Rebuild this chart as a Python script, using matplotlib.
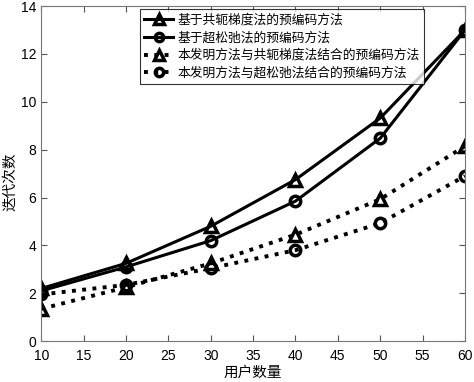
import matplotlib
matplotlib.use("Agg")
import matplotlib.pyplot as plt

plt.rcParams['font.family'] = ['Liberation Sans', 'Noto Sans CJK SC', 'DejaVu Sans']

users = [10, 20, 30, 40, 50, 60]
cg = [2.2, 3.25, 4.8, 6.75, 9.32, 13.0]
sor = [2.1, 3.1, 4.2, 5.85, 8.48, 13.0]
ours_cg = [1.35, 2.25, 3.25, 4.45, 5.93, 8.15]
ours_sor = [1.95, 2.35, 3.05, 3.8, 4.93, 6.9]
labels = ['基于共轭梯度法的预编码方法', '基于超松弛法的预编码方法',
          '本发明方法与共轭梯度法结合的预编码方法', '本发明方法与超松弛法结合的预编码方法']

fig = plt.figure(figsize=(4.74, 3.82), dpi=100)
ax = fig.add_axes([0.087, 0.107, 0.894, 0.877])

ax.plot(users, cg, '-', color='black', lw=2.2, marker='^', ms=9, mfc='none', mew=2.5, label=labels[0])
ax.plot(users, sor, '-', color='black', lw=2.2, marker='o', ms=7.5, mfc='none', mew=2.5, label=labels[1])
ax.plot(users, ours_cg, ':', color='black', lw=2.8, marker='^', ms=9, mfc='none', mew=2.5, label=labels[2])
ax.plot(users, ours_sor, ':', color='black', lw=2.8, marker='o', ms=7.5, mfc='none', mew=2.5, label=labels[3])

ax.set_xlim(10, 60)
ax.set_ylim(0, 14)
ax.set_xticks(range(10, 61, 5))
ax.set_yticks(range(0, 15, 2))
ax.tick_params(direction='in', labelsize=10, length=4, color='#555555',
               top=True, right=True)
ax.tick_params(axis='x', pad=6)
for s in ax.spines.values():
    s.set_color('#777777')
ax.set_xlabel('用户数量', fontsize=10.5, labelpad=2)
fig.text(0.022, 0.524, '迭代次数', fontsize=10.5, rotation=90, ha='center', va='center')

leg = ax.legend(loc='upper left', bbox_to_anchor=(0.233, 0.99), fontsize=9.2, frameon=True,
                fancybox=False, edgecolor='black', handlelength=2.2, borderpad=0.35,
                labelspacing=0.4, handletextpad=0.4, borderaxespad=0, markerscale=0.8)
leg.get_frame().set_linewidth(0.8)

fig.savefig('out.png', dpi=100)
